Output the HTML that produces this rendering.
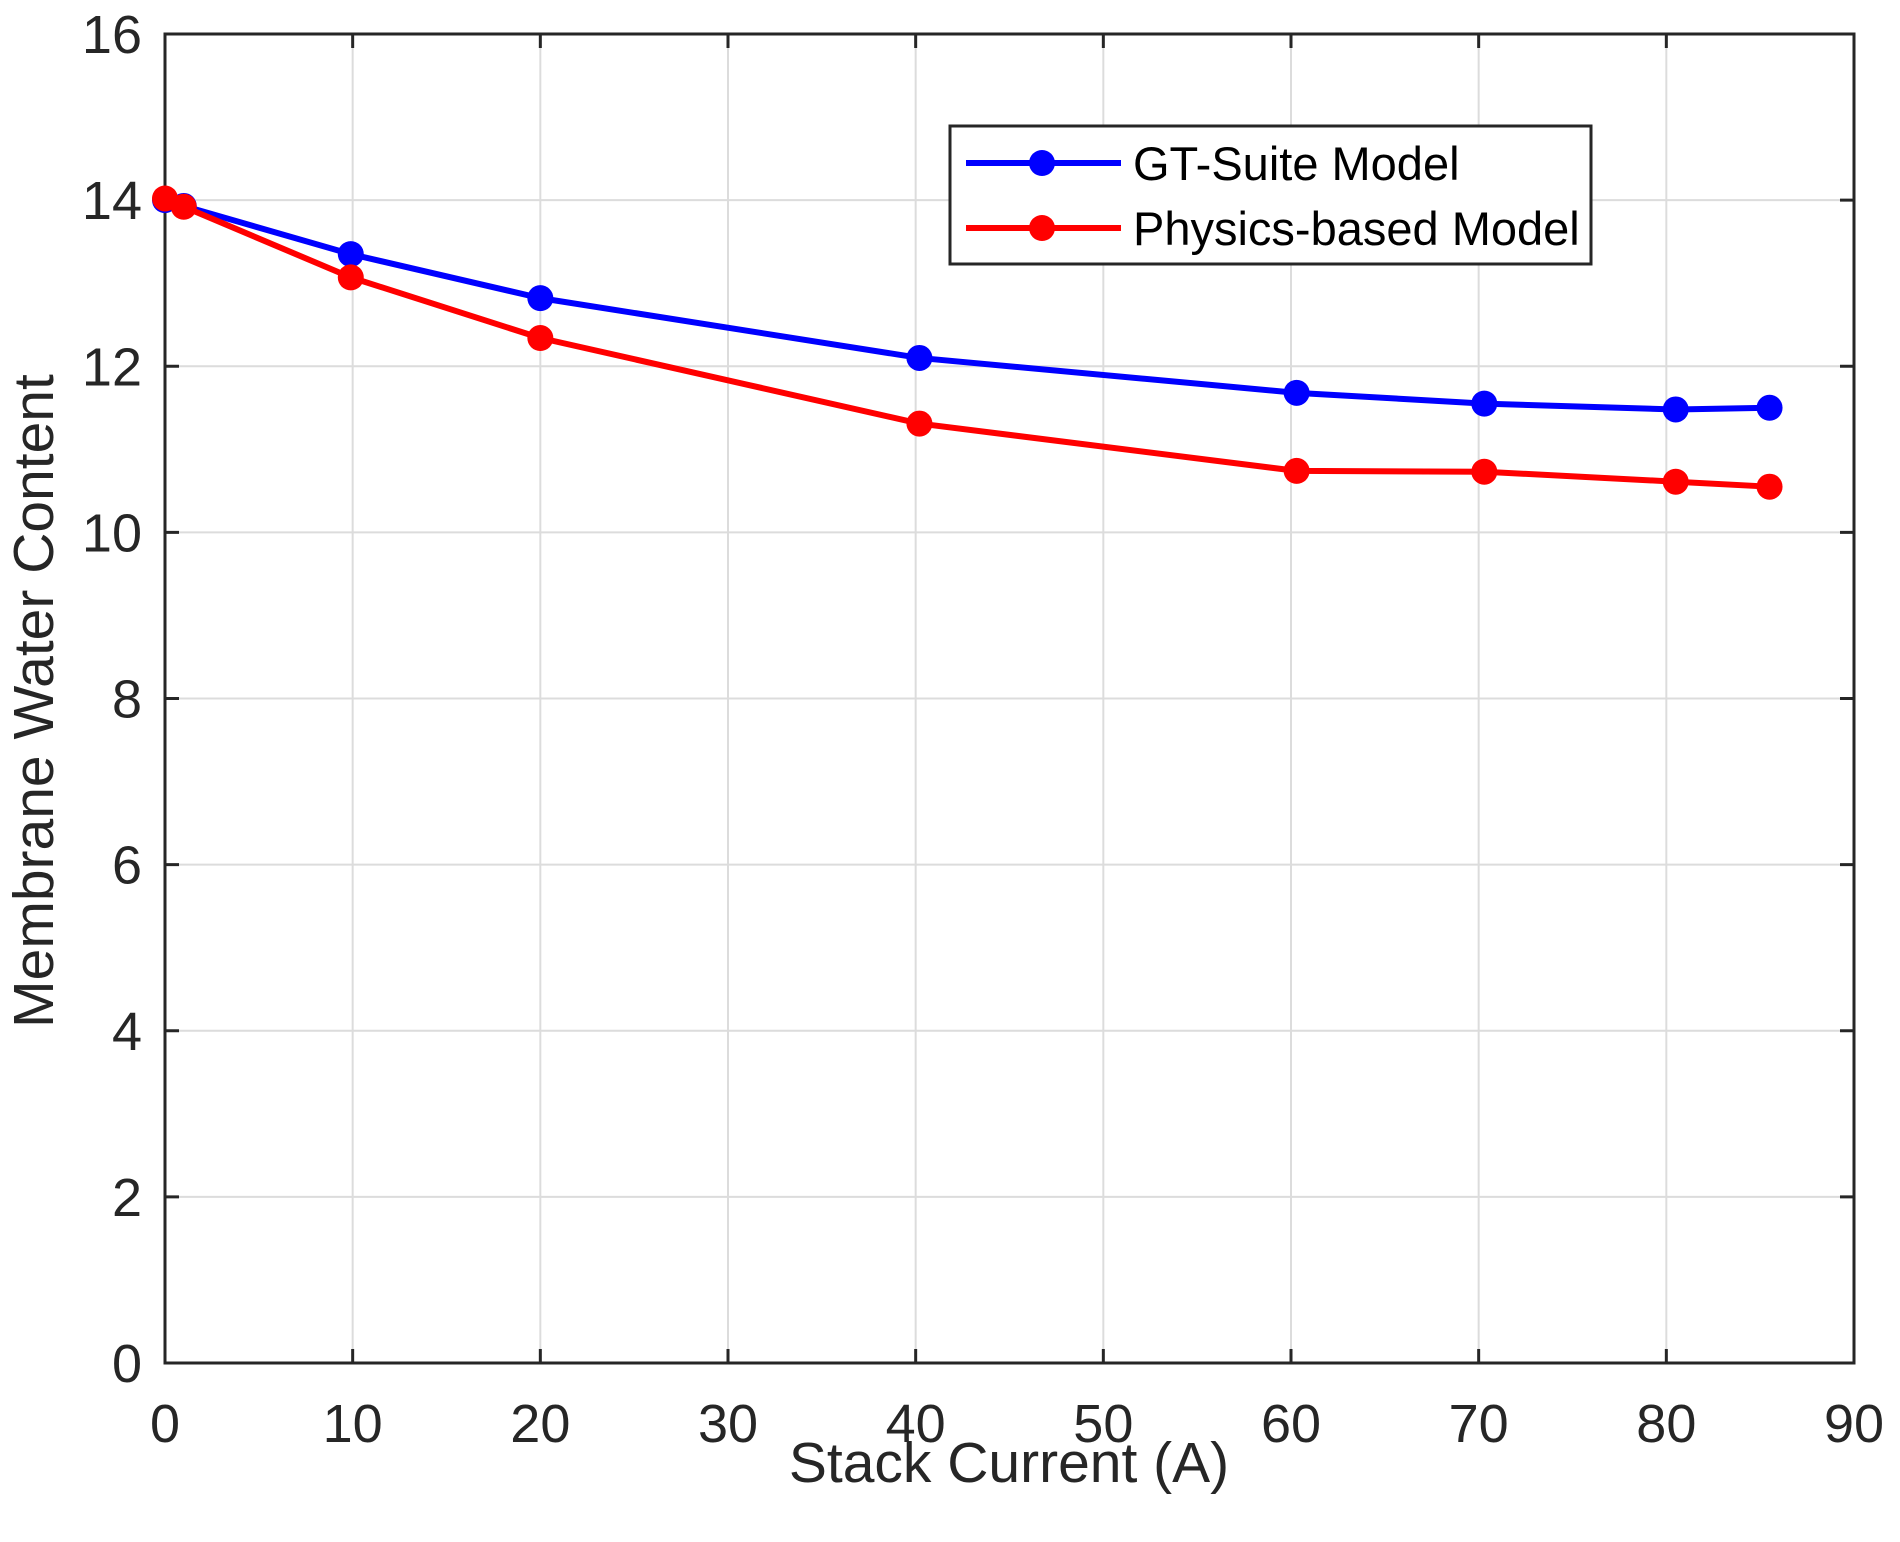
<!DOCTYPE html>
<html><head><meta charset="utf-8"><style>
html,body{margin:0;padding:0;background:#fff;}
svg{display:block;font-family:"Liberation Sans",Arial,sans-serif;}
</style></head><body>
<svg id="chart" width="1900" height="1542" viewBox="0 0 1900 1542" xmlns="http://www.w3.org/2000/svg">
<rect x="0" y="0" width="1900" height="1542" fill="#fff"/>
<g id="grid"></g>
<g id="axes"></g>
<g id="series"></g>
<text x="1009" y="1482" font-size="57" text-anchor="middle" fill="#262626">Stack Current (A)</text>
<text transform="translate(53,701) rotate(-90)" font-size="57" text-anchor="middle" fill="#262626">Membrane Water Content</text>
<g>
<rect x="950" y="126" width="641" height="138" fill="#fff" stroke="#262626" stroke-width="3"/>
<g>
<line x1="966" y1="163" x2="1121" y2="163" stroke="#0000ff" stroke-width="6"/>
<circle cx="1042" cy="163" r="13" fill="#0000ff"/>
<text x="1133" y="180" font-size="47" fill="#000">GT-Suite Model</text>
</g>
<g>
<line x1="966" y1="228" x2="1121" y2="228" stroke="#ff0000" stroke-width="6"/>
<circle cx="1042" cy="228" r="13" fill="#ff0000"/>
<text x="1133" y="245" font-size="47" fill="#000">Physics-based Model</text>
</g>
</g>
</svg>
<script>
const xTicks=[0,10,20,30,40,50,60,70,80,90];
const yTicks=[0,2,4,6,8,10,12,14,16];
const gtX=[0,1,9.9,20,40.2,60.3,70.3,80.5,85.5];
const gtY=[14.0,13.93,13.35,12.82,12.1,11.68,11.55,11.48,11.5];
const phX=[0,1,9.9,20,40.2,60.3,70.3,80.5,85.5];
const phY=[14.02,13.92,13.07,12.34,11.31,10.74,10.73,10.61,10.55];
const L=165,R=1854,T=34,B=1363;
const sx=v=>L+(v-0)/(90-0)*(R-L);
const sy=v=>B-(v-0)/(16-0)*(B-T);
const NS="http://www.w3.org/2000/svg";
function mk(tag,attrs,parent){const e=document.createElementNS(NS,tag);for(const k in attrs)e.setAttribute(k,attrs[k]);parent.appendChild(e);return e;}
const grid=document.getElementById('grid'),axes=document.getElementById('axes'),series=document.getElementById('series');
xTicks.forEach(t=>{
 const x=sx(t);
 const g=mk('line',{x1:x,y1:T,x2:x,y2:B,stroke:'#dcdcdc','stroke-width':2},grid);
 
 
 mk('line',{x1:x,y1:B,x2:x,y2:B-14,stroke:'#262626','stroke-width':3},axes);
 mk('line',{x1:x,y1:T,x2:x,y2:T+14,stroke:'#262626','stroke-width':3},axes);
 const tx=mk('text',{x:x,y:1442,'font-size':54,'text-anchor':'middle',fill:'#262626'},axes);
 tx.textContent=t;
 
 
});
yTicks.forEach(t=>{
 const y=sy(t);
 const g=mk('line',{x1:L,y1:y,x2:R,y2:y,stroke:'#dcdcdc','stroke-width':2},grid);
 
 
 mk('line',{x1:L,y1:y,x2:L+14,y2:y,stroke:'#262626','stroke-width':3},axes);
 mk('line',{x1:R,y1:y,x2:R-14,y2:y,stroke:'#262626','stroke-width':3},axes);
 const tx=mk('text',{x:142,y:y+19,'font-size':54,'text-anchor':'end',fill:'#262626'},axes);
 tx.textContent=t;
 
 
});
const frame=mk('rect',{x:L,y:T,width:R-L,height:B-T,fill:'none',stroke:'#262626','stroke-width':3},axes);


function drawSeries(xs,ys,color,name){
 const pts=xs.map((x,i)=>sx(x)+','+sy(ys[i])).join(' ');
 const pl=mk('polyline',{points:pts,fill:'none',stroke:color,'stroke-width':6,'stroke-linejoin':'round'},series);
 
 
 xs.forEach((x,i)=>{
  const c=mk('circle',{cx:sx(x),cy:sy(ys[i]),r:13,fill:color},series);
  
  
 });
}
drawSeries(gtX,gtY,'#0000ff','gt-suite');
drawSeries(phX,phY,'#ff0000','physics');
</script>
</body></html>
